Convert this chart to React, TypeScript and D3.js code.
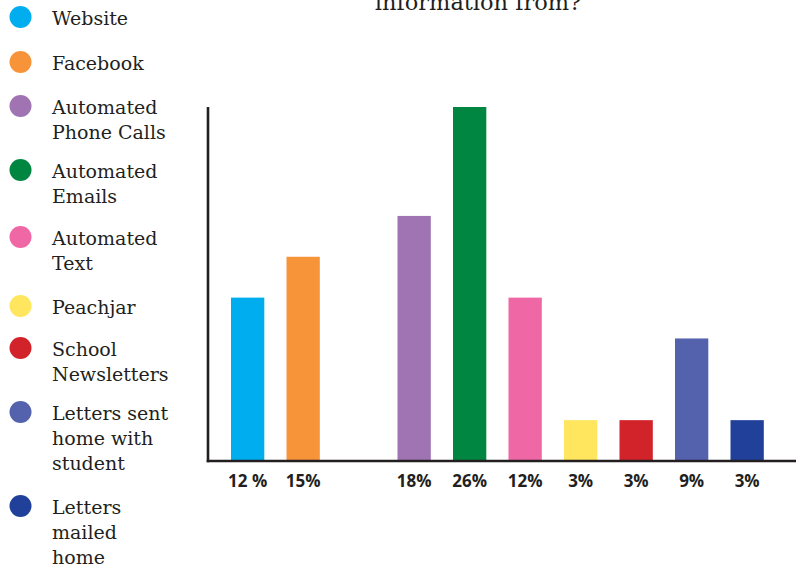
import React from "react";
import * as d3 from "d3";

// Survey: where families get school information
const categories = [
  "Website",
  "Facebook",
  "Automated Phone Calls",
  "Automated Emails",
  "Automated Text",
  "Peachjar",
  "School Newsletters",
  "Letters sent home with student",
  "Letters mailed home",
];
const percentages = [12, 15, 18, 26, 12, 3, 3, 9, 3];
const valueLabels = ["12 %", "15%", "18%", "26%", "12%", "3%", "3%", "9%", "3%"];
const colors = [
  "#00AEEF",
  "#F7943A",
  "#A074B3",
  "#008641",
  "#F067A6",
  "#FFE65E",
  "#D2232A",
  "#5462AE",
  "#21409A",
];
// legend text, broken into lines
const legendLines = [
  ["Website"],
  ["Facebook"],
  ["Automated", "Phone Calls"],
  ["Automated", "Emails"],
  ["Automated", "Text"],
  ["Peachjar"],
  ["School", "Newsletters"],
  ["Letters sent", "home with", "student"],
  ["Letters", "mailed", "home"],
];
// the bar row leaves an empty slot between Facebook and the automated channels
const slots = ["Website", "Facebook", "", ...categories.slice(2)];
const titleLine = "information from?";

const W = 796;
const H = 569;
const baseY = 461;
const topY = 107;
const axisX = 208;

const serif = "'DejaVu Serif', serif";
const sans = "'Open Sans', sans-serif";
const ink = "#231f20";

export default function App() {
  const x = d3
    .scaleBand<string>()
    .domain(slots)
    .range([219.9, 774.9])
    .paddingInner(0.4)
    .paddingOuter(0.2);
  const y = d3.scaleLinear().domain([0, 26]).range([baseY, topY]);

  // legend anchors: circle centre y per entry
  const legendCircleY = [17, 62, 106, 170, 237, 306, 348, 412, 506];
  const lineH = 25;

  return (
    <svg
      width={W}
      height={H}
      viewBox={`0 0 ${W} ${H}`}
      style={{ position: "absolute", left: 0, top: 0, background: "#fff" }}
    >
      <text
        x={478}
        y={10}
        textAnchor="middle"
        fontFamily={serif}
        fontSize={22.5}
        fill={ink}
      >
        {titleLine}
      </text>

      {/* legend */}
      {categories.map((c, i) => (
        <g key={c}>
          <circle cx={20.5} cy={legendCircleY[i]} r={11} fill={colors[i]} />
          {legendLines[i].map((ln, j) => (
            <text
              key={j}
              x={52}
              y={legendCircleY[i] + 8 + j * lineH}
              fontFamily={serif}
              fontSize={19}
              fill={ink}
            >
              {ln}
            </text>
          ))}
        </g>
      ))}

      {/* bars */}
      {categories.map((c, i) => (
        <rect
          key={c}
          x={x(c)}
          y={y(percentages[i])}
          width={x.bandwidth()}
          height={baseY - y(percentages[i])}
          fill={colors[i]}
        />
      ))}

      {/* axes */}
      <line x1={axisX} x2={axisX} y1={topY} y2={baseY + 1.3} stroke={ink} strokeWidth={2.6} />
      <line x1={axisX - 1.3} x2={W} y1={baseY} y2={baseY} stroke={ink} strokeWidth={2.6} />

      {/* value labels */}
      {categories.map((c, i) => (
        <text
          key={c}
          x={(x(c) as number) + x.bandwidth() / 2}
          y={487}
          textAnchor="middle"
          fontFamily={sans}
          fontWeight={700}
          fontSize={17}
          fill={ink}
        >
          {valueLabels[i]}
        </text>
      ))}
    </svg>
  );
}
